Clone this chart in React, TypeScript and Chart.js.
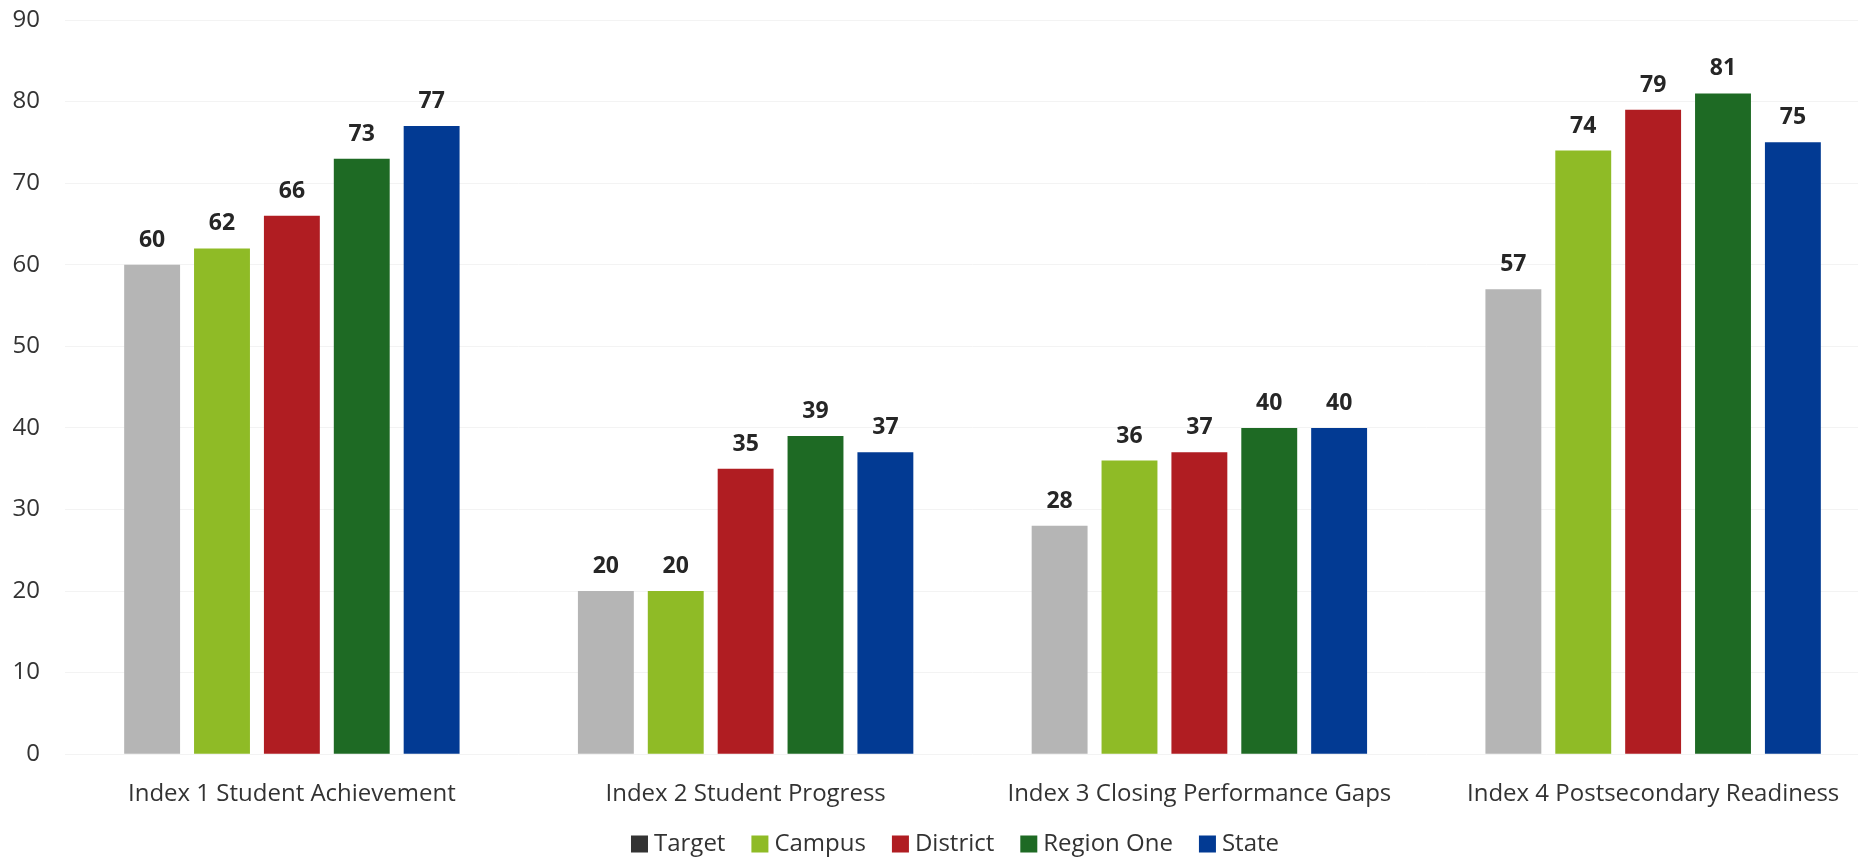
import React, { useEffect, useRef } from "react";
import { Chart, registerables } from "chart.js";

Chart.register(...registerables);

const categories = [
  "Index 1 Student Achievement",
  "Index 2 Student Progress",
  "Index 3 Closing Performance Gaps",
  "Index 4 Postsecondary Readiness",
];
const targetValues = [60, 20, 28, 57];
const campusValues = [62, 20, 36, 74];
const districtValues = [66, 35, 37, 79];
const regionOneValues = [73, 39, 40, 81];
const stateValues = [77, 37, 40, 75];
const seriesNames = ["Target", "Campus", "District", "Region One", "State"];
const seriesColors = ["#b5b5b5", "#8fbb26", "#b01d22", "#1e6a24", "#023a93"];
const legendColors = ["#333333", "#8fbb26", "#b01d22", "#1e6a24", "#023a93"];
const yTicks = [0, 10, 20, 30, 40, 50, 60, 70, 80, 90];

const FONT = "'Open Sans', 'Noto Sans', sans-serif";

const valueLabelPlugin = {
  id: "valueLabels",
  afterDatasetsDraw(chart: any) {
    const ctx = chart.ctx;
    ctx.save();
    ctx.font = `bold 23px ${FONT}`;
    ctx.fillStyle = "#262626";
    ctx.textAlign = "center";
    ctx.textBaseline = "alphabetic";
    chart.data.datasets.forEach((ds: any, i: number) => {
      const meta = chart.getDatasetMeta(i);
      meta.data.forEach((bar: any, j: number) => {
        ctx.fillText(String(ds.data[j]), bar.x, bar.y - 18);
      });
    });
    ctx.restore();
  },
};

const customLegendPlugin = {
  id: "customLegend",
  afterDraw(chart: any) {
    const ctx = chart.ctx;
    ctx.save();
    ctx.font = `24px ${FONT}`;
    ctx.textBaseline = "middle";
    ctx.textAlign = "left";
    const box = 17;
    const gapBoxText = 6;
    const gapItems = 26;
    const widths = seriesNames.map((n) => box + gapBoxText + ctx.measureText(n).width);
    const total = widths.reduce((a, b) => a + b, 0) + gapItems * (seriesNames.length - 1);
    let x = chart.width / 2 + 15 - total / 2;
    const cy = chart.height - 16;
    seriesNames.forEach((n, i) => {
      ctx.fillStyle = legendColors[i];
      ctx.fillRect(x, cy - box / 2, box, box);
      ctx.fillStyle = "#333333";
      ctx.fillText(n, x + box + gapBoxText, cy);
      x += widths[i] + gapItems;
    });
    ctx.restore();
  },
};

export default function App() {
  const canvasRef = useRef<HTMLCanvasElement | null>(null);

  useEffect(() => {
    document.body.style.margin = "0";
    document.body.style.overflow = "hidden";
    const allSeries = [targetValues, campusValues, districtValues, regionOneValues, stateValues];
    const chart = new Chart(canvasRef.current as HTMLCanvasElement, {
      type: "bar",
      data: {
        labels: categories,
        datasets: allSeries.map((vals, i) => ({
          label: seriesNames[i],
          data: vals,
          backgroundColor: seriesColors[i],
          borderWidth: 0,
          barPercentage: 0.8,
          categoryPercentage: 0.77,
        })),
      },
      options: {
        animation: false,
        responsive: false,
        maintainAspectRatio: false,
        layout: { padding: { top: 0, left: 1, right: 0, bottom: 33 } },
        plugins: {
          tooltip: { enabled: false },
          legend: { display: false },
        },
        scales: {
          x: {
            grid: { display: false },
            border: { display: false },
            ticks: {
              font: { family: FONT, size: 24 },
              color: "#333333",
              padding: 18,
            },
          },
          y: {
            min: 0,
            max: 90,
            afterBuildTicks: (axis: any) => {
              axis.ticks = yTicks.map((v) => ({ value: v }));
            },
            afterFit: (axis: any) => {
              axis.width = 64;
              axis.paddingTop = 20;
            },
            grid: { color: "#f3f3f3", drawTicks: false },
            border: { display: false },
            ticks: {
              font: { family: FONT, size: 24 },
              color: "#333333",
              padding: 25,
            },
          },
        },
      },
      plugins: [valueLabelPlugin, customLegendPlugin],
    });
    return () => chart.destroy();
  }, []);

  return (
    <div style={{ width: 1880, height: 860, background: "#ffffff" }}>
      <canvas ref={canvasRef} width={1880} height={860} style={{ display: "block" }} />
    </div>
  );
}
